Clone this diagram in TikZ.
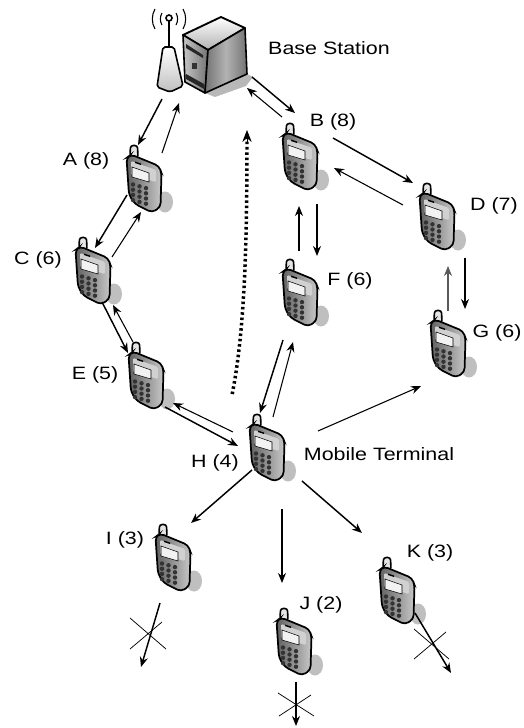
\documentclass[tikz,border=0pt]{standalone}
\usepackage{fontspec}
\setmainfont{Liberation Sans}[FakeStretch=1.2]
\usetikzlibrary{arrows.meta,calc}
\tikzset{
  thickarr/.style={line width=1.1pt,-{Stealth[length=7.5pt,width=6pt]}},
  thinarr/.style={line width=.8pt,-{Stealth[length=7.5pt,width=6pt]}},
  greyarr/.style={thinarr,draw=black!65},
  crossmark/.style={line width=.55pt},
  lab/.style={inner sep=0pt,font=\fontsize{13.4}{13.4}\selectfont},
  holder/.style={inner sep=0pt,minimum width=27pt,minimum height=50pt},
  pics/handset/.style={code={
    \fill[black!25] (31,57) ellipse [x radius=8,y radius=10.5];
    \draw[line width=1.2pt,fill=black!10,rounded corners=2] (-3.5,0.5) -- (3.5,0.5) -- (4,13) -- (-4,11) -- cycle;
    \draw[line width=1.3pt,left color=black!62,right color=black!22,rounded corners=3]
      (-7.5,13) -- (-3,9.5) -- (25,21) -- (27.5,28) -- (26.5,62) -- (18,67.5) -- (1,59) -- (-5,50) -- cycle;
    \fill[black!18,rounded corners=1] (-3,16) -- (22,25) -- (22,37) -- (-3,30) -- cycle;
    \fill[black!5,draw=black,line width=.4pt] (-2,22) -- (15,28) -- (15,37) -- (-2,32) -- cycle;
    \fill[black] (1,16.5) -- (7,18.5) -- (7,20) -- (1,18) -- cycle;
    \foreach \r in {0,1,2,3}{\foreach \c in {0,1,2}{
      \fill[black!80] ({\c*6.5-1},{39.5+\r*5.2+\c*1.8}) circle (2.2);}}
  }},
}
\newcommand{\phone}[3]{%
  \pgfmathsetmacro\phx{#2+10}\pgfmathsetmacro\phy{#3+33}%
  \expandafter\xdef\csname cx#1\endcsname{\phx}%
  \expandafter\xdef\csname cy#1\endcsname{\phy}%
  \pic at (#2,#3) {handset};
  \node[holder] (#1) at (\phx,\phy) {};
}
\newcommand{\freept}[3]{%
  \expandafter\xdef\csname cx#1\endcsname{#2}%
  \expandafter\xdef\csname cy#1\endcsname{#3}%
  \coordinate (#1) at (#2,#3);
}
\newcommand{\link}[7]{%
  \pgfmathsetmacro\dxa{#3-\csname cx#2\endcsname}%
  \pgfmathsetmacro\dya{#4-\csname cy#2\endcsname}%
  \pgfmathsetmacro\dxb{#6-\csname cx#5\endcsname}%
  \pgfmathsetmacro\dyb{#7-\csname cy#5\endcsname}%
  \draw[#1] ([shift={(\dxa,\dya)}]#2.center) -- ([shift={(\dxb,\dyb)}]#5.center);
}
\begin{document}
\begin{tikzpicture}[x=.75pt,y=-.75pt]
\useasboundingbox (0,0) rectangle (524,728);
% server
\fill[black!28] (205,93) -- (247,74) -- (253,77) -- (246,86) -- (215,97) -- cycle;
\draw[line width=1.4pt,top color=white,bottom color=black!30,line join=round] (183,35) -- (221,17) -- (245,28) -- (208,50) -- cycle;
\draw[line width=1.2pt,left color=black!22,right color=black!55,line join=round] (183,35) -- (208,50) -- (205,93) -- (185,82) -- cycle;
\draw[line width=1.2pt,left color=black!55,right color=black!55,middle color=black!30,line join=round] (208,50) -- (245,28) -- (247,74) -- (205,93) -- cycle;
\fill[black!85] (186,44) -- (203,55) -- (203,58) -- (186,48) -- cycle;
\fill[black!80] (192,63) rectangle (197,69);
\fill[black!85] (186,74) -- (204,84) -- (204,89) -- (186,79) -- cycle;
% tower
\draw[line width=1.2pt,top color=white,bottom color=black!25,rounded corners=1.5] (163,47) -- (174,47) -- (183,86) -- (170,92) -- (157,87) -- cycle;
\draw[line width=1pt] (169,21) -- (169,46);
\draw[line width=1.2pt,fill=white] (169,18) circle (3);
\draw[line width=.8pt] (162,25) arc (150:210:12);
\draw[line width=.8pt] (155,29) arc (150:210:20);
\draw[line width=.8pt] (176,25) arc (30:-30:12);
\draw[line width=.8pt] (183,29) arc (30:-30:20);
\node[inner sep=0pt,minimum width=47pt,minimum height=58pt] (srv) at (215,55) {};
\expandafter\xdef\csname cxsrv\endcsname{215}\expandafter\xdef\csname cysrv\endcsname{55}
\node[inner sep=0pt,minimum width=20pt,minimum height=35pt] (twr) at (170,69) {};
\expandafter\xdef\csname cxtwr\endcsname{170}\expandafter\xdef\csname cytwr\endcsname{69}
% handsets
\phone{A}{134}{145}
\phone{B}{290}{123}
\phone{C}{83}{237}
\phone{D}{427}{183}
\phone{E}{136}{342}
\phone{F}{290}{259}
\phone{G}{438}{310}
\phone{H}{257}{414}
\phone{I}{163}{524}
\phone{J}{284}{608}
\phone{K}{387}{557}
\freept{Iend}{141}{667}
\freept{Jend}{296}{726}
\freept{Kend}{451}{673}
% labels
\node[lab] (tB) at (329,48) {Base Station};
\node[lab] (tA) at (86,161) {A (8)};
\node[lab] (tb) at (333,122) {B (8)};
\node[lab] (tC) at (38,260) {C (6)};
\node[lab] (tD) at (494,206) {D (7)};
\node[lab] (tE) at (95,375) {E (5)};
\node[lab] (tF) at (350,281) {F (6)};
\node[lab] (tG) at (497,333) {G (6)};
\node[lab] (tH) at (215,463) {H (4)};
\node[lab] (tM) at (379,454) {Mobile Terminal};
\node[lab] (tI) at (125,540) {I (3)};
\node[lab] (tJ) at (321,605) {J (2)};
\node[lab] (tK) at (430,553) {K (3)};
% connectors
\link{thickarr}{twr}{162}{99}{A}{138}{145}
\link{thinarr}{A}{162}{153}{twr}{179}{103}
\link{thickarr}{srv}{252}{77}{B}{295}{113}
\link{thinarr}{B}{282}{117}{srv}{247}{88}
\link{thickarr}{B}{333}{138}{D}{413}{183}
\link{thinarr}{D}{403}{205}{B}{334}{168}
\link{thinarr}{F}{299}{251}{B}{299}{206}
\link{thickarr}{B}{317}{204}{F}{317}{256}
\link{greyarr}{G}{448}{311}{D}{448}{266}
\link{thickarr}{D}{465}{258}{G}{465}{309}
\link{thickarr}{A}{127}{195}{C}{95}{248}
\link{thinarr}{C}{112}{257}{A}{141}{212}
\link{thickarr}{C}{102}{302}{E}{128}{353}
\link{thinarr}{E}{133}{342}{C}{113}{305}
\link{thickarr}{E}{165}{407}{H}{238}{446}
\link{thinarr}{H}{233}{432}{E}{173}{403}
\link{thickarr}{F}{283}{340}{H}{260}{413}
\link{thinarr}{H}{273}{417}{F}{293}{342}
\link{thinarr}{H}{318}{431}{G}{421}{386}
\link{thickarr}{H}{252}{470}{I}{191}{523}
\link{thinarr}{H}{282}{509}{J}{282}{583}
\link{thickarr}{H}{302}{481}{K}{362}{533}
\link{thickarr}{I}{160}{603}{Iend}{141}{667}
\link{thickarr}{J}{296}{682}{Jend}{296}{726}
\link{thickarr}{K}{415}{613}{Kend}{451}{673}
% crosses
\draw[crossmark] (130,618) -- (166,649) (130,649) -- (162,622);
\draw[crossmark] (278,693) -- (314,716) (279,716) -- (311,695);
\draw[crossmark] (414,629) -- (449,659) (414,659) -- (446,632);
% dotted route
\node[inner sep=0pt,minimum size=1pt] (rs) at (232,395) {};
\node[inner sep=0pt,minimum size=1pt] (re) at (247,134) {};
\draw[line width=2.6pt,dash pattern=on 1.9pt off 2.1pt] (rs) .. controls (245,330) and (247,240) .. (re);
\draw[line width=.7pt,-{Stealth[length=9pt,width=7pt]}] (247,142) -- (247,130);
\end{tikzpicture}
\end{document}
